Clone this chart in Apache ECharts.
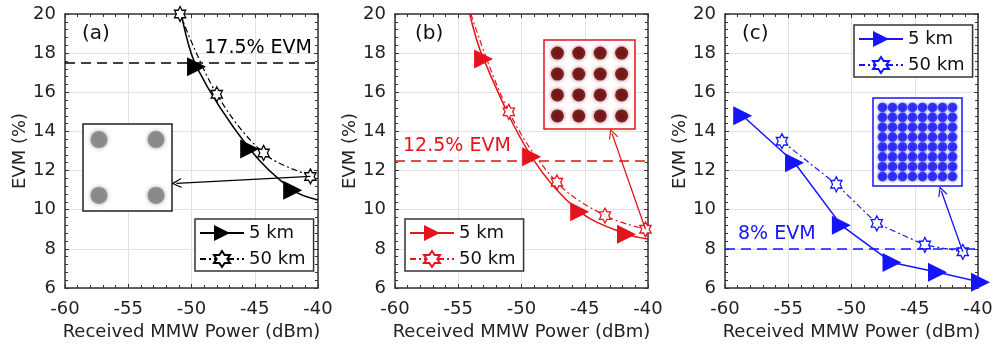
<!DOCTYPE html>
<html>
<head>
<meta charset="utf-8">
<script src="https://cdn.jsdelivr.net/npm/echarts@6/dist/echarts.min.js"></script>
<style>
html,body{margin:0;padding:0;background:#fff;}
#chart{width:997px;height:351px;}
</style>
</head>
<body>
<div id="chart"></div>
<script>
// ---------------- data ----------------
const panelLabels = ['(a)', '(b)', '(c)'];
const legendLabels = ['5 km', '50 km'];
const xAxisName = 'Received MMW Power (dBm)';
const yAxisName = 'EVM (%)';
const xMin = -60, xMax = -40, xStep = 5;
const yMin = 6, yMax = 20, yStep = 2;

// panel (a)  (measured flag: 1 = measured marker, 0 = fitted-curve point)
const a5kmPower = [-50.8, -49.6, -45.4, -42.0, -40.0];
const a5kmEvm = [20.0, 17.3, 13.1, 11.0, 10.5];
const a5kmMeasured = [0, 1, 1, 1, 0];
const a50kmPower = [-50.9, -48.0, -44.3, -40.6, -40.0];
const a50kmEvm = [20.0, 15.9, 12.9, 11.7, 11.6];
const a50kmMeasured = [1, 1, 1, 1, 0];

// panel (b)
const b5kmPower = [-54.1, -53.0, -49.2, -45.4, -41.7, -40.0];
const b5kmEvm = [20.0, 17.7, 12.7, 9.9, 8.75, 8.5];
const b5kmMeasured = [0, 1, 1, 1, 1, 0];
const b50kmPower = [-54.0, -51.0, -47.2, -43.4, -40.2];
const b50kmEvm = [20.0, 15.0, 11.4, 9.7, 9.0];
const b50kmMeasured = [0, 1, 1, 1, 1];

// panel (c)
const c5kmPower = [-58.6, -54.5, -50.8, -46.8, -43.2, -39.8];
const c5kmEvm = [14.8, 12.4, 9.2, 7.3, 6.8, 6.3];
const c5kmMeasured = [1, 1, 1, 1, 1, 1];
const c50kmPower = [-55.5, -51.2, -48.0, -44.2, -41.2];
const c50kmEvm = [13.5, 11.3, 9.3, 8.2, 7.85];
const c50kmMeasured = [1, 1, 1, 1, 1];

// EVM thresholds
const thresholds = [17.5, 12.5, 8];
const thresholdLabels = ['17.5% EVM', '12.5% EVM', '8% EVM'];

// arrows from a 50 km point to the constellation inset
const arrowFrom = [[-40.6, 11.7], [-40.2, 9.0], [-41.2, 7.85]];
const arrowTo = [[-51.2, 11.35], [-42.85, 13.9], [-42.9, 10.96]];

// constellation levels (QPSK, 16-QAM, 64-QAM)
const qamLevels = [[-1, 1], [-3, -1, 1, 3], [-7, -5, -3, -1, 1, 3, 5, 7]];

// ---------------- layout / style ----------------
const FONT = 'DejaVu Sans';
const colors = ['#000000', '#e3141c', '#1414ff'];
const gridLeft = [65, 395, 725];
const gridTop = 14, gridW = 253, gridH = 274;
const labelLeft = [82, 415, 742];
const legendPos = [{left: 195, top: 219}, {left: 405, top: 219}, {left: 854, top: 25}];
const thrLabelPos = ['insideEndTop', 'insideStartTop', 'insideStartTop'];
const thrLabelDist = [[6, 5], [8, 5], [13, 5]];
const smoothCurves = [true, true, false];
const insetBox = [
  {left: 83, top: 124, width: 89, height: 87, range: 1.56},
  {left: 544, top: 40, width: 91, height: 89, range: 4.25},
  {left: 873, top: 98, width: 89, height: 88, range: 8.9}
];
const insetCore = [
  {size: 17, color: '#808080', blur: 4, shadow: 'rgba(128,128,128,0.85)'},
  {size: 13, color: '#5e0000', blur: 4, shadow: 'rgba(170,40,50,0.85)'},
  {size: 9.5, color: '#1c1cf2', blur: 3, shadow: 'rgba(40,40,255,0.85)'}
];
const starPath = 'path://M50,0 L64.43,25 L93.3,25 L78.87,50 L93.3,75 L64.43,75 L50,100 L35.57,75 L6.7,75 L21.13,50 L6.7,25 L35.57,25 Z';
const chevronPath = 'path://M0,10 L5,0 L10,10 L8.7,10 L5,2.6 L1.3,10 Z';

const powers5 = [a5kmPower, b5kmPower, c5kmPower];
const evms5 = [a5kmEvm, b5kmEvm, c5kmEvm];
const meas5 = [a5kmMeasured, b5kmMeasured, c5kmMeasured];
const powers50 = [a50kmPower, b50kmPower, c50kmPower];
const evms50 = [a50kmEvm, b50kmEvm, c50kmEvm];
const meas50 = [a50kmMeasured, b50kmMeasured, c50kmMeasured];
const ids = ['a', 'b', 'c'];
const legendText = {};
ids.forEach(id => { legendText[id + '5'] = legendLabels[0]; legendText[id + '50'] = legendLabels[1]; });

function toData(p, e, m) {
  return p.map((x, k) => {
    const item = {value: [x, e[k]]};
    if (!m[k]) item.symbol = 'none';
    return item;
  });
}

const grid = [], xAxis = [], yAxis = [], series = [], legend = [], title = [];
const axisCol = '#333';

for (let i = 0; i < 3; i++) {
  grid.push({left: gridLeft[i], top: gridTop, width: gridW, height: gridH, outerBoundsMode: 'none', containLabel: false});
  const common = {
    type: 'value', gridIndex: i,
    axisLine: {show: true, onZero: false, lineStyle: {color: axisCol, width: 1.5}},
    axisTick: {show: true, inside: true, length: 4, lineStyle: {color: axisCol, width: 1}},
    minorTick: {show: true, splitNumber: 5, length: 3, lineStyle: {color: axisCol, width: 1}}
  };
  xAxis.push(Object.assign({}, common, {
    position: 'bottom', min: xMin, max: xMax, interval: xStep,
    splitLine: {show: true, lineStyle: {color: '#e2e2e2', width: 1}},
    axisLabel: {show: true, fontSize: 18, color: '#222', fontFamily: FONT, margin: 12},
    name: xAxisName, nameLocation: 'middle', nameGap: 35,
    nameTextStyle: {fontSize: 18, color: '#222', fontFamily: FONT}
  }));
  xAxis.push(Object.assign({}, common, {
    position: 'top', min: xMin, max: xMax, interval: xStep,
    splitLine: {show: false}, axisLabel: {show: false}
  }));
  yAxis.push(Object.assign({}, common, {
    position: 'left', min: yMin, max: yMax, interval: yStep,
    splitLine: {show: true, lineStyle: {color: '#e2e2e2', width: 1}},
    axisLabel: {show: true, fontSize: 18, color: '#222', fontFamily: FONT, margin: 9},
    name: yAxisName, nameLocation: 'middle', nameGap: 34,
    nameTextStyle: {fontSize: 18, color: '#222', fontFamily: FONT}
  }));
  yAxis.push(Object.assign({}, common, {
    position: 'right', min: yMin, max: yMax, interval: yStep,
    splitLine: {show: false}, axisLabel: {show: false}
  }));

  const col = colors[i];
  series.push({
    name: ids[i] + '5', type: 'line', xAxisIndex: 2 * i, yAxisIndex: 2 * i,
    data: toData(powers5[i], evms5[i], meas5[i]),
    smooth: smoothCurves[i] ? 0.35 : false,
    symbol: 'triangle', symbolRotate: -90, symbolSize: 19,
    itemStyle: {color: col},
    lineStyle: {color: col, width: 1.5, type: 'solid'},
    clip: false, z: 3,
    markLine: {
      silent: true, symbol: 'none', animation: false,
      lineStyle: {color: col, type: [10, 6], width: 1.5},
      label: {show: true, formatter: thresholdLabels[i], position: thrLabelPos[i], color: col, fontSize: 19, fontFamily: FONT, distance: thrLabelDist[i]},
      data: [{yAxis: thresholds[i]}]
    }
  });
  series.push({
    name: ids[i] + '50', type: 'line', xAxisIndex: 2 * i, yAxisIndex: 2 * i,
    data: toData(powers50[i], evms50[i], meas50[i]),
    smooth: smoothCurves[i] ? 0.35 : false,
    symbol: starPath, symbolSize: [13, 15], symbolKeepAspect: true,
    itemStyle: {color: '#ffffff', borderColor: col, borderWidth: 1.3},
    lineStyle: {color: col, width: 1.2, type: [6, 3, 2, 3]},
    clip: false, z: 4,
    markLine: {
      silent: true, symbol: ['none', chevronPath], symbolSize: 10, animation: false,
      lineStyle: {color: col, type: 'solid', width: 1.3},
      label: {show: false},
      data: [[{coord: arrowFrom[i]}, {coord: arrowTo[i]}]]
    }
  });

  legend.push({
    data: [ids[i] + '5', ids[i] + '50'],
    formatter: n => legendText[n],
    left: legendPos[i].left, top: legendPos[i].top,
    orient: 'vertical', itemWidth: 44, itemHeight: 20, itemGap: 8,
    padding: [5, 8, 3, 4],
    textStyle: {fontSize: 18, color: '#111', fontFamily: FONT},
    borderColor: '#333', borderWidth: 1.5, backgroundColor: '#fff', borderRadius: 0,
    selectedMode: false, z: 8
  });

  title.push({
    text: panelLabels[i], left: labelLeft[i], top: 24, padding: 0,
    textStyle: {fontSize: 20, fontWeight: 'normal', color: '#111', fontFamily: FONT}
  });
}

// insets
for (let i = 0; i < 3; i++) {
  const b = insetBox[i];
  const gi = 3 + i;
  grid.push({left: b.left, top: b.top, width: b.width, height: b.height, show: true,
    borderColor: i === 0 ? '#222' : colors[i], borderWidth: 1.5, backgroundColor: '#fff', z: 5,
    outerBoundsMode: 'none', containLabel: false});
  xAxis.push({type: 'value', gridIndex: gi, min: -b.range, max: b.range, show: false});
  yAxis.push({type: 'value', gridIndex: gi, min: -b.range, max: b.range, show: false});
  const pts = [];
  qamLevels[i].forEach(iv => qamLevels[i].forEach(qv => pts.push([iv, qv])));
  const c = insetCore[i];
  series.push({
    type: 'scatter', xAxisIndex: 6 + i, yAxisIndex: 6 + i, data: pts, silent: true,
    symbol: 'circle', symbolSize: c.size, z: 7,
    itemStyle: {color: c.color, shadowBlur: c.blur, shadowColor: c.shadow}
  });
}

const chart = echarts.init(document.getElementById('chart'), null, {renderer: 'canvas'});
chart.setOption({
  animation: false,
  backgroundColor: '#ffffff',
  textStyle: {fontFamily: FONT},
  title, grid, xAxis, yAxis, legend, series
});
</script>
</body>
</html>
